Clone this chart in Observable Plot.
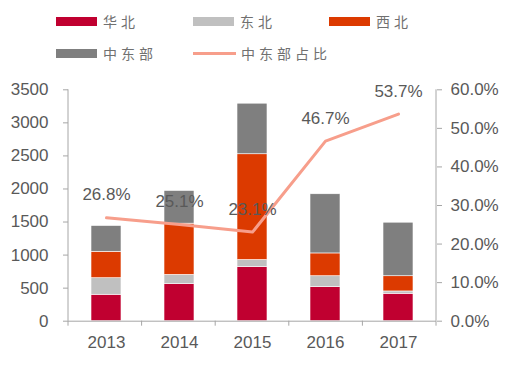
<!DOCTYPE html>
<html><head><meta charset="utf-8">
<script src="https://cdn.jsdelivr.net/npm/d3@7"></script>
<script src="https://cdn.jsdelivr.net/npm/@observablehq/plot@0.6"></script>
<style>
body{margin:0;background:#fff;font-family:"Liberation Sans",Arial,sans-serif;}
#wrap{width:520px;height:372px;position:relative;overflow:hidden;}
#legend{position:relative;height:75px;width:520px;}
.item{position:absolute;display:flex;align-items:center;height:18px;line-height:18px;font-family:"Noto Sans CJK SC",sans-serif;font-size:14px;color:#707070;white-space:nowrap;}
.item .t{letter-spacing:4px;}
.sw{width:41px;height:9px;margin-right:6px;}
.ln{width:43px;height:3px;margin-right:5px;}
#chart svg{display:block;}
</style></head><body>
<div id="wrap"><div id="legend"></div><div id="chart"></div></div>
<script>
const years = ["2013", "2014", "2015", "2016", "2017"];
const regions = ["华北", "东北", "西北", "中东部"];
const huabei = [400, 560, 820, 515, 415];
const dongbei = [250, 140, 105, 165, 35];
const xibei = [400, 775, 1600, 345, 230];
const zhongdongbu = [390, 495, 765, 895, 810];
const shareName = "中东部占比";
const share = [26.8, 25.1, 23.1, 46.7, 53.7];
const leftTicks = [0, 500, 1000, 1500, 2000, 2500, 3000, 3500];
const rightTicks = [0, 10, 20, 30, 40, 50, 60];

const colors = ["#C00030", "#C0C0C0", "#DC3A00", "#7F7F7F"];
const lineColor = "#F79E8B";
const series = [huabei, dongbei, xibei, zhongdongbu];

const table = years.flatMap((yr, i) => regions.map((r, j) => ({year: yr, region: r, value: series[j][i]})));
const k = leftTicks[leftTicks.length - 1] / rightTicks[rightTicks.length - 1];
const shareRows = years.map((yr, i) => ({year: yr, share: share[i], y: share[i] * k}));

// legend
const legend = document.getElementById("legend");
const legItems = regions.map((r, i) => ({label: r, color: colors[i], type: "bar"})).concat([{label: shareName, color: lineColor, type: "line"}]);
const lefts = [56, 193, 329];
legItems.forEach((it, i) => {
  const d = document.createElement("div");
  d.className = "item";
  d.style.left = lefts[i % 3] + "px";
  d.style.top = (i < 3 ? 12 : 44) + "px";
  const s = document.createElement("span");
  s.className = it.type === "bar" ? "sw" : "ln";
  s.style.background = it.color;
  d.appendChild(s);
  const t = document.createElement("span");
  t.className = "t";
  t.textContent = it.label;
  d.appendChild(t);
  legend.appendChild(d);
});

const axisColor = "#A6A6A6";
const textColor = "#595959";

function frameMark(index, scales, values, dims) {
  const {width, height, marginLeft, marginRight, marginTop, marginBottom} = dims;
  const g = d3.create("svg:g").attr("stroke", axisColor).attr("fill", "none");
  const xl = marginLeft, xr = width - marginRight, yb = height - marginBottom, yt = marginTop;
  g.append("line").attr("x1", xl).attr("x2", xl).attr("y1", yt).attr("y2", yb);
  g.append("line").attr("x1", xr).attr("x2", xr).attr("y1", yt).attr("y2", yb);
  const n = years.length;
  for (let i = 0; i <= n; i++) {
    const bx = xl + (xr - xl) * i / n;
    g.append("line").attr("x1", bx).attr("x2", bx).attr("y1", yb).attr("y2", yb + 5);
  }
  return g.node();
}

const chart = Plot.plot({
  width: 520,
  height: 297,
  marginTop: 14.3,
  marginBottom: 51.3,
  marginLeft: 68,
  marginRight: 84,
  style: {fontFamily: "'Liberation Sans', Arial, sans-serif", fontSize: "17px", color: textColor, background: "white"},
  x: {domain: years, paddingInner: 0.59, paddingOuter: 0.295, label: null},
  y: {domain: [0, leftTicks[leftTicks.length - 1]], label: null},
  color: {domain: regions, range: colors},
  marks: [
    Plot.barY(table, {x: "year", y: "value", fill: "region", order: regions, stroke: "white", strokeWidth: 0.6}),
    Plot.ruleY([0], {stroke: axisColor}),
    Plot.lineY(shareRows, {x: "year", y: "y", stroke: lineColor, strokeWidth: 3}),
    Plot.text(shareRows, {x: "year", y: "y", text: d => d.share.toFixed(1) + "%", dy: -23, fill: textColor, fontSize: 17}),
    Plot.axisY({anchor: "left", ticks: leftTicks, tickFormat: d => String(d), tickSize: 5, tickPadding: 15, stroke: axisColor, fill: textColor, label: null}),
    Plot.axisY({anchor: "right", ticks: rightTicks.map(p => p * k), tickFormat: v => (v / k).toFixed(1) + "%", tickSize: 5, tickPadding: 9, stroke: axisColor, fill: textColor, label: null}),
    Plot.axisX({tickSize: 0, tickPadding: 15, fill: textColor, label: null}),
    frameMark
  ]
});
document.getElementById("chart").appendChild(chart);
</script>
</body></html>
